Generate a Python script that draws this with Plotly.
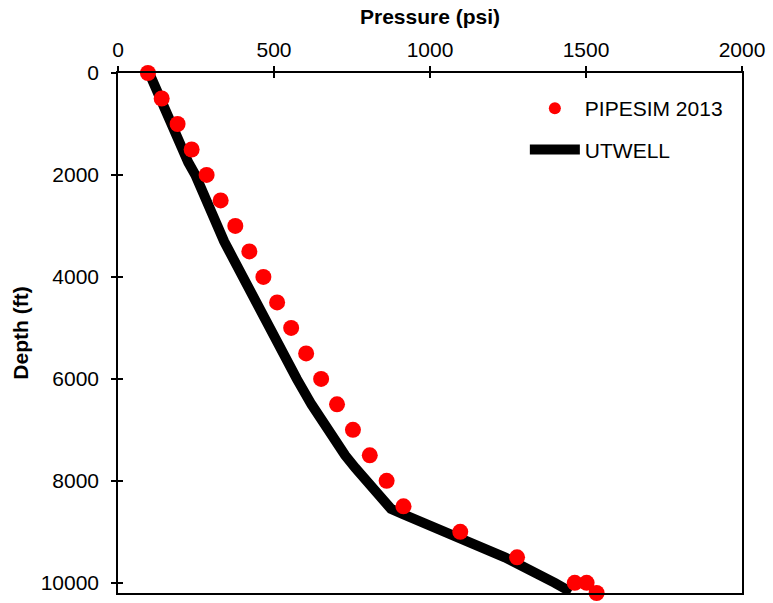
import plotly.graph_objects as go

# PIPESIM 2013 (dots)
pipesim_depth = [0, 500, 1000, 1500, 2000, 2500, 3000, 3500, 4000, 4500, 5000,
                 5500, 6000, 6500, 7000, 7500, 8000, 8500, 9000, 9500, 10000, 10000, 10200]
pipesim_pressure = [96, 140, 191, 236, 284, 329, 376, 421, 466, 510, 555,
                    603, 651, 702, 753, 807, 861, 915, 1097, 1279, 1464, 1502, 1534]

# UTWELL (line)
utwell_depth = [0, 500, 1000, 1500, 1750, 2000, 2500, 3000, 3300, 3500, 4000, 4500, 5000,
                5500, 6000, 6500, 7000, 7500, 7750, 8000, 8150, 8350, 8550, 8650,
                9000, 9500, 10000, 10180]
utwell_pressure = [100, 136, 171, 203, 225, 248, 281, 315, 340, 357, 400, 439, 480,
                   529, 573, 620, 672, 728, 761, 795, 815, 846, 875, 912,
                   1050, 1240, 1400, 1452]

x_ticks = [0, 500, 1000, 1500, 2000]
y_ticks = [0, 2000, 4000, 6000, 8000, 10000]
y_tick_text = ["0", "2000", "4000", "6000", "8000", "10000"]

FONT = "Liberation Sans, Arial, sans-serif"
FS = 21

fig = go.Figure()
fig.add_trace(go.Scatter(
    x=utwell_pressure, y=utwell_depth, mode="lines", name="UTWELL",
    line=dict(color="black", width=10), legendgroup="b", legendrank=2,
    cliponaxis=False,
))
fig.add_trace(go.Scatter(
    x=pipesim_pressure, y=pipesim_depth, mode="markers", name="PIPESIM 2013",
    marker=dict(color="#ff0000", size=16, line=dict(width=0)), legendgroup="a",
    showlegend=False, cliponaxis=False,
))
# legend-only entry with the smaller legend symbol of the reference
fig.add_trace(go.Scatter(
    x=[None], y=[None], mode="markers", name="PIPESIM 2013",
    marker=dict(color="#ff0000", size=12, line=dict(width=0)), legendgroup="a",
    legendrank=1, hoverinfo="skip",
))
# helper trace for inner tick marks (cross ticks)
fig.add_trace(go.Scatter(x=[None], y=[None], xaxis="x2", yaxis="y2",
                         showlegend=False, hoverinfo="skip"))

fig.update_layout(
    width=773, height=603,
    margin=dict(l=118, r=28, t=73, b=8),
    paper_bgcolor="white", plot_bgcolor="white",
    font=dict(family=FONT, size=FS, color="black"),
    showlegend=True,
    legend=dict(
        x=0.652, y=0.971, xanchor="left", yanchor="top",
        traceorder="grouped", tracegroupgap=11,
        itemwidth=50, bgcolor="rgba(0,0,0,0)",
        font=dict(family=FONT, size=FS, color="black"),
    ),
    xaxis=dict(
        side="top", range=[0, 2000], tickvals=x_ticks,
        ticks="outside", ticklen=5, tickwidth=1.5, tickcolor="black",
        showline=True, linecolor="black", linewidth=1.5, mirror=True,
        showgrid=False, zeroline=False,
        title=dict(text="<b>Pressure (psi)</b>", standoff=7,
                   font=dict(family=FONT, size=FS)),
        ticklabelstandoff=1,
    ),
    yaxis=dict(
        range=[10200, 0], tickvals=y_ticks, ticktext=y_tick_text,
        ticks="outside", ticklen=5, tickwidth=1.5, tickcolor="black",
        showline=True, linecolor="black", linewidth=1.5, mirror=True,
        showgrid=False, zeroline=False,
        title=dict(text="<b>Depth (ft)</b>", standoff=6,
                   font=dict(family=FONT, size=FS)),
        ticklabelstandoff=8,
    ),
    xaxis2=dict(
        overlaying="x", side="top", range=[0, 2000], tickvals=x_ticks,
        ticks="inside", ticklen=5, tickwidth=1.5, tickcolor="black",
        showticklabels=False, showline=False, showgrid=False, zeroline=False,
        anchor="y2",
    ),
    yaxis2=dict(
        overlaying="y", side="left", range=[10200, 0], tickvals=y_ticks,
        ticks="inside", ticklen=5, tickwidth=1.5, tickcolor="black",
        showticklabels=False, showline=False, showgrid=False, zeroline=False,
        anchor="x2",
    ),
)

fig.write_html("out.html")
